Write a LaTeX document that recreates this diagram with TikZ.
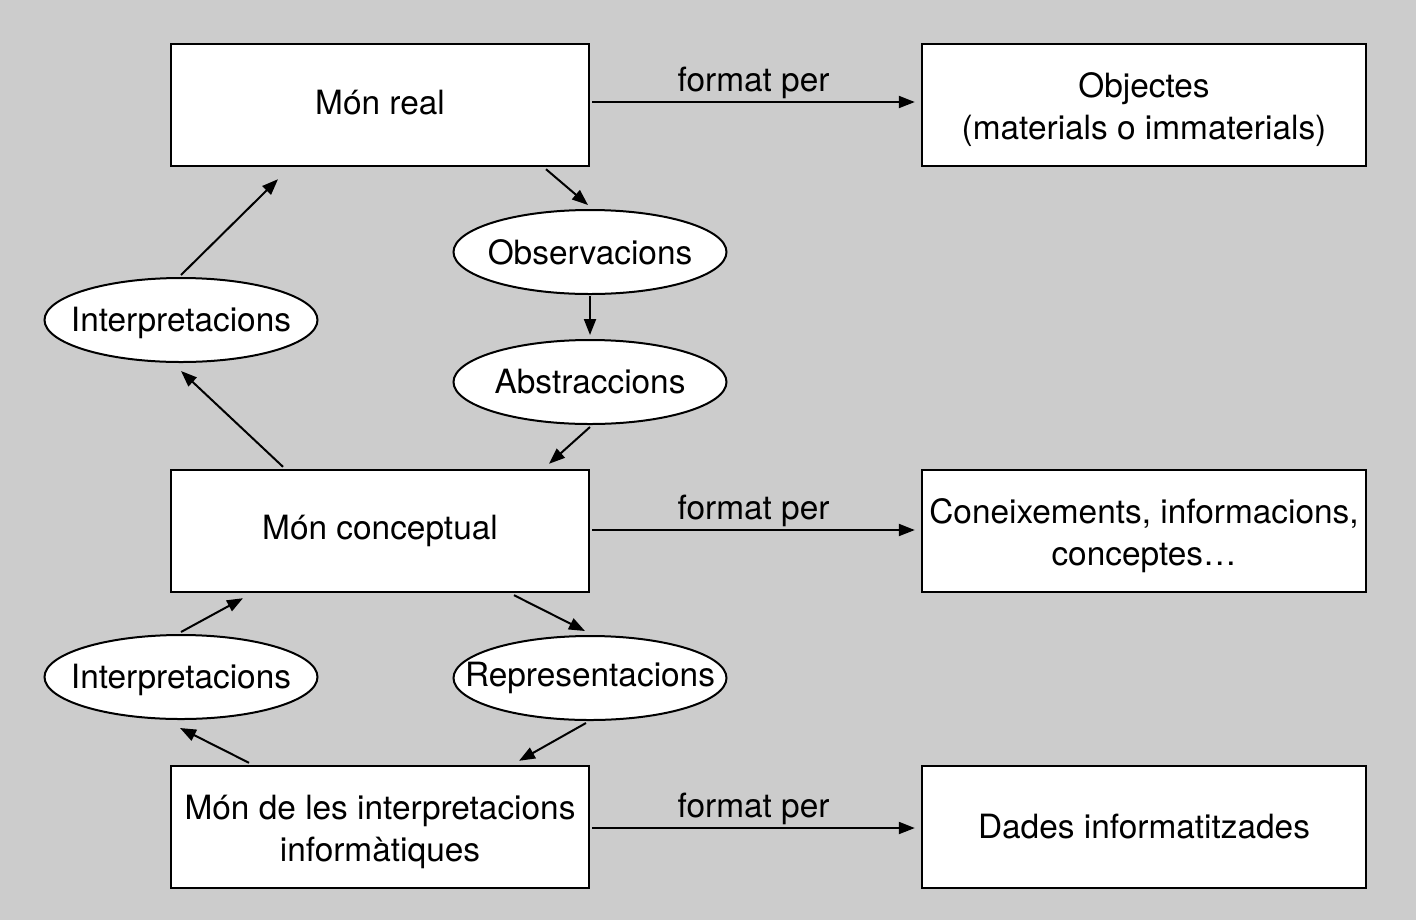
\documentclass[tikz,border=0pt]{standalone}
\usepackage{fontspec}
\setmainfont{TeX Gyre Heros}
\usetikzlibrary{shapes.geometric,arrows.meta,calc}
\definecolor{bg}{HTML}{CCCCCC}
\begin{document}
\begin{tikzpicture}[x=0.5pt,y=-0.5pt,
  every node/.style={font=\fontsize{16.7pt}{21pt}\selectfont, align=center},
  lbox/.style={draw, line width=1.2pt, fill=white, minimum width=209pt, minimum height=61pt, inner sep=0pt},
  rbox/.style={draw, line width=1.2pt, fill=white, minimum width=222pt, minimum height=61pt, inner sep=0pt},
  oval/.style={ellipse, draw, line width=1pt, fill=white, minimum width=136.5pt, minimum height=42pt, inner sep=0pt},
  tl/.style={yshift=-2.3pt, inner sep=0pt},
  ol/.style={yshift=-1.4pt, inner sep=0pt},
  sl/.style={yshift=1pt, inner sep=0pt},
  conn/.style={line width=1pt, -{Triangle[length=8pt,width=6pt]}},
  lab/.style={inner sep=0pt}
]
\useasboundingbox (0,0) rectangle (1418,922);
\fill[white] (0,0) rectangle (1418,922);
\fill[bg] (0,0) rectangle (1416,920);

\node[lbox, label={[sl]center:Món real}] (mr) at (380,105) {};
\node[rbox, label={[tl]center:{Objectes\\(materials o immaterials)}}] (obj) at (1144,105) {};
\node[oval] (obs) at (590,252) {\makebox[0pt]{Observacions}};
\node[oval] (abs) at (590,382) {\makebox[0pt]{Abstraccions}};
\node[oval, label={[ol]center:Interpretacions}] (int1) at (181,320) {};
\node[lbox] (mc) at (380,531) {Món conceptual};
\node[rbox, label={[tl]center:{Coneixements, informacions,\\conceptes…}}] (con) at (1144,531) {};
\node[oval, label={[ol]center:Interpretacions}] (int2) at (181,677) {};
\node[oval] (rep) at (590,678) {\makebox[0pt]{Representacions}};
\node[lbox, label={[tl]center:{Món de les interpretacions\\informàtiques}}] (md) at (380,827) {};
\node[rbox] (dad) at (1144,827) {Dades informatitzades};

\draw[conn] ($(mr.east)+(2,-3)$) -- node[lab, above=1pt] (f1) {format per} ($(obj.west)+(-6,-3)$);
\draw[conn] ($(mc.east)+(2,-1)$) -- node[lab, above=1pt] (f2) {format per} ($(con.west)+(-6,-1)$);
\draw[conn] ($(md.east)+(2,1)$) -- node[lab, above=1pt] (f3) {format per} ($(dad.west)+(-6,1)$);

\draw[conn] ($(mr.south)+(166,2)$) -- ($(obs.north)+(-2,-4)$);
\draw[conn] ($(obs.south)+(0,1)$) -- ($(abs.north)+(0,-4)$);
\draw[conn] ($(abs.south)+(0,2)$) -- ($(mc.north)+(169,-5)$);
\draw[conn] ($(mc.north)+(-97,-2)$) -- ($(int1.south)+(0,8)$);
\draw[conn] ($(int1.north)+(0,-2)$) -- ($(mr.south)+(-102,12)$);
\draw[conn] ($(mc.south)+(134,2)$) -- ($(rep.north)+(-5,-4)$);
\draw[conn] ($(rep.south)+(-4,2)$) -- ($(md.north)+(139,-4)$);
\draw[conn] ($(md.north)+(-131,-2)$) -- ($(int2.south)+(-1,8)$);
\draw[conn] ($(int2.north)+(0,-2)$) -- ($(mc.south)+(-137,5)$);
\end{tikzpicture}
\end{document}
